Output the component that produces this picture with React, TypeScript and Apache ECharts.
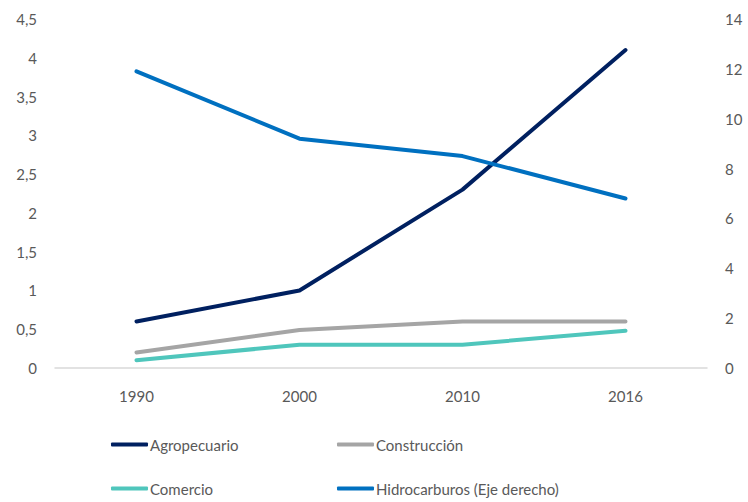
import React, { useEffect, useRef } from "react";
import * as echarts from "echarts";

const categories = ["1990", "2000", "2010", "2016"];
const agropecuario = [0.6, 1.0, 2.3, 4.1];
const construccion = [0.2, 0.49, 0.6, 0.6];
const comercio = [0.1, 0.3, 0.3, 0.48];
const hidrocarburos = [11.9, 9.2, 8.5, 6.8];

const seriesNames = ["Agropecuario", "Construcción", "Comercio", "Hidrocarburos (Eje derecho)"];
const colors = ["#002060", "#A5A5A5", "#4FC6BC", "#0070C0"];

const FONT = "Lato";
const LABEL_COLOR = "#595959";

export default function App() {
  const ref = useRef<HTMLDivElement>(null);
  useEffect(() => {
    if (!ref.current) return;
    const chart = echarts.init(ref.current, undefined, { renderer: "svg" });
    const values = [agropecuario, construccion, comercio, hidrocarburos];
    const legendPos = [
      { left: 111, top: 437 },
      { left: 337, top: 437 },
      { left: 111, top: 481 },
      { left: 337, top: 481 },
    ];
    chart.setOption({
      animation: false,
      backgroundColor: "#ffffff",
      grid: { left: 55, right: 41, top: 19, bottom: 134 },
      xAxis: {
        type: "category",
        data: categories,
        boundaryGap: true,
        axisLine: { show: true, lineStyle: { color: "#D9D9D9", width: 1.5 } },
        axisTick: { show: false },
        axisLabel: { color: LABEL_COLOR, fontFamily: FONT, fontSize: 15, margin: 20 },
      },
      yAxis: [
        {
          type: "value",
          min: 0,
          max: 4.5,
          interval: 0.5,
          splitLine: { show: false },
          axisLine: { show: false },
          axisTick: { show: false },
          axisLabel: {
            color: LABEL_COLOR,
            fontFamily: FONT,
            fontSize: 15,
            margin: 18,
            formatter: (v: number) => String(v).replace(".", ","),
          },
        },
        {
          type: "value",
          min: 0,
          max: 14,
          interval: 2,
          position: "right",
          splitLine: { show: false },
          axisLine: { show: false },
          axisTick: { show: false },
          axisLabel: { color: LABEL_COLOR, fontFamily: FONT, fontSize: 15, margin: 18 },
        },
      ],
      legend: seriesNames.map((name, i) => ({
        data: [name],
        left: legendPos[i].left,
        top: legendPos[i].top,
        icon: "roundRect",
        itemWidth: 37,
        itemHeight: 4,
        itemGap: 0,
        padding: 0,
        textStyle: { color: LABEL_COLOR, fontFamily: FONT, fontSize: 15, padding: [0, 0, 0, -3] },
      })),
      series: seriesNames.map((name, i) => ({
        name,
        type: "line",
        yAxisIndex: i === 3 ? 1 : 0,
        data: values[i],
        showSymbol: false,
        symbol: "none",
        lineStyle: { color: colors[i], width: 4, cap: "round", join: "round" },
        itemStyle: { color: colors[i] },
      })),
    });
    return () => chart.dispose();
  }, []);
  return (
    <div
      ref={ref}
      style={{ position: "fixed", left: 0, top: 0, width: 748, height: 502 }}
    />
  );
}
